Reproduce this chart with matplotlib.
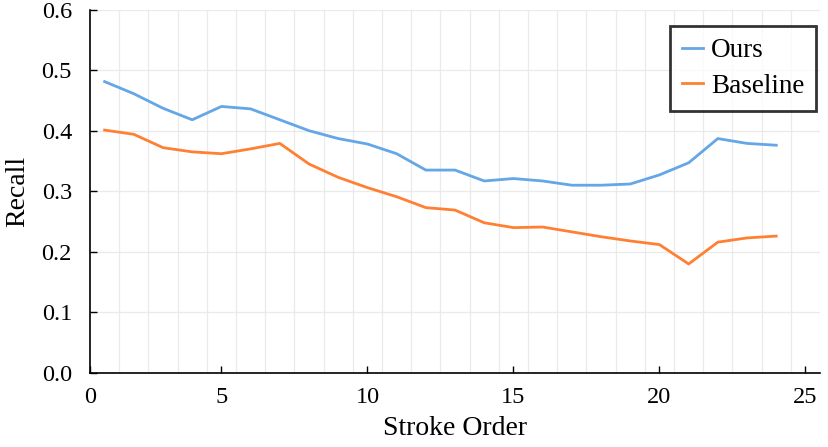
import numpy as np
import matplotlib
matplotlib.use("Agg")
import matplotlib.pyplot as plt

# stroke index and recall values
stroke = list(range(1, 25))
ours = [0.481, 0.461, 0.437, 0.418, 0.440, 0.436, 0.418, 0.400, 0.387, 0.378,
        0.362, 0.335, 0.335, 0.317, 0.321, 0.317, 0.310, 0.310, 0.312, 0.327,
        0.347, 0.387, 0.379, 0.376]
baseline = [0.401, 0.394, 0.372, 0.365, 0.362, 0.370, 0.379, 0.345, 0.323, 0.306,
            0.291, 0.273, 0.269, 0.248, 0.240, 0.241, 0.233, 0.225, 0.218, 0.212,
            0.180, 0.216, 0.223, 0.226]
xtick_labels = ["0", "5", "10", "15", "20", "25"]

BLUE = "#64a6e6"
ORANGE = "#ff8033"

plt.rcParams["font.family"] = ["Liberation Serif", "DejaVu Serif"]

fig = plt.figure(figsize=(8.29, 4.47), dpi=100)
ax = fig.add_axes([0.1086, 0.1655, 0.8806, 0.8132])

ax.plot(stroke, ours, color=BLUE, linewidth=2.0, label="Ours")
ax.plot(stroke, baseline, color=ORANGE, linewidth=2.0, label="Baseline")

ax.set_xlim(0.5, 25.5)
ax.set_ylim(0, 0.6)

ax.set_xticks([0.5, 5, 10, 15, 20, 25])
ax.set_xticklabels(xtick_labels)
ax.set_yticks(np.arange(0, 0.61, 0.1))
ax.set_yticklabels([f"{v:.1f}" for v in np.arange(0, 0.61, 0.1)])
ax.set_xticks(np.arange(1.5, 25.0, 1.0), minor=True)

ax.grid(True, which="major", axis="y", color="#eaeaea", linewidth=0.9)
ax.grid(True, which="minor", axis="x", color="#eaeaea", linewidth=0.9)
ax.set_axisbelow(True)

ax.tick_params(axis="both", which="major", direction="in", length=5, width=1,
               labelsize=17.5)
ax.tick_params(axis="x", which="major", pad=10)
ax.tick_params(axis="y", which="major", pad=13)
ax.tick_params(axis="x", which="minor", length=0)

for side in ["top", "right"]:
    ax.spines[side].set_visible(False)
for side in ["left", "bottom"]:
    ax.spines[side].set_linewidth(1.2)

ax.set_xlabel("Stroke Order", fontsize=20, labelpad=6)
ax.set_ylabel("Recall", fontsize=20, labelpad=8)

leg = ax.legend(loc="upper right", bbox_to_anchor=(0.995, 0.955), fontsize=19.5,
                frameon=True, fancybox=False, handlelength=0.75,
                handletextpad=0.3, borderpad=0.45, labelspacing=0.4,
                borderaxespad=0)
leg.get_frame().set_edgecolor("black")
leg.get_frame().set_linewidth(2.0)

fig.savefig("out.png", dpi=100)
